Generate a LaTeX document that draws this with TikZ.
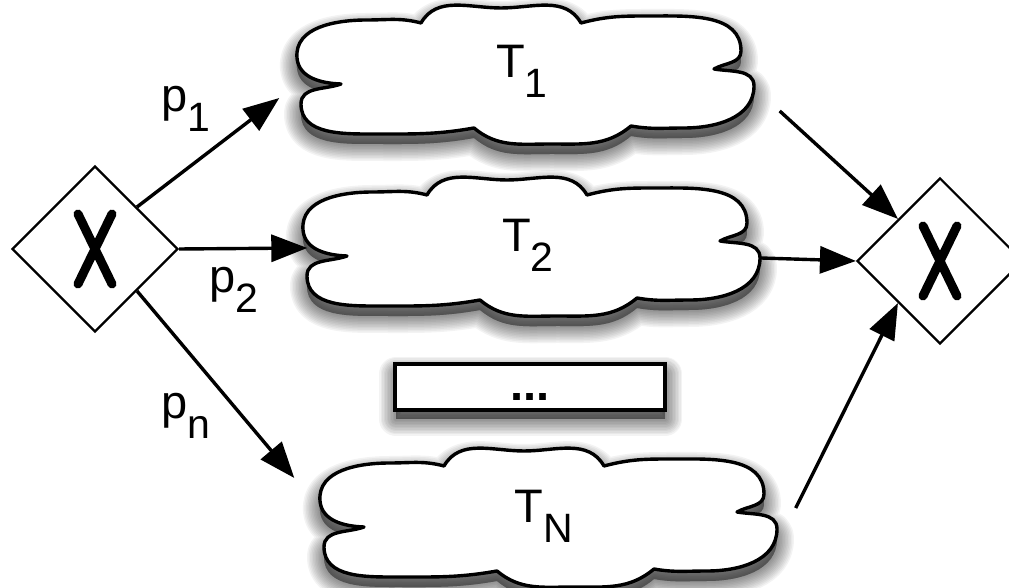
\documentclass[tikz,border=0pt]{standalone}
\usepackage{fontspec}
\setmainfont{Liberation Sans}
\usetikzlibrary{arrows.meta, shapes.geometric}

\newcommand{\lowsub}[1]{\raisebox{-20pt}{\fontsize{41}{48}\selectfont #1}}
% cloud outline centred on #1, drawn with style #2 (six puffs, notches left and right)
\newcommand{\cloudoutline}[2]{%
  \path[#2, shift={(#1)}]
    (-184,-8) to[out=178,in=-85] (-228,18)
    to[out=95,in=180] (-158,56)
    to[out=0,in=165] (-104,53)
    to[out=60,in=180] (-24,68)
    to[out=0,in=120] (56,53)
    to[out=15,in=180] (126,60)
    to[out=0,in=90] (216,25)
    to[out=-90,in=30] (189,7)
    to[out=-10,in=90] (229,-10)
    to[out=-90,in=0] (159,-52)
    to[out=180,in=-10] (106,-50)
    to[out=-140,in=0] (26,-68)
    to[out=180,in=-40] (-51,-52)
    to[out=-170,in=0] (-150,-58)
    to[out=180,in=-90] (-224,-28)
    to[out=90,in=-160] (-184,-8) -- cycle;}
% soft shadow under a cloud
\newcommand{\cloudshadow}[1]{%
  \foreach \w in {34,31,...,1}
    {\cloudoutline{#1}{softshadow, line width=\w pt}}}

\begin{document}
\begin{tikzpicture}[x=1pt, y=1pt,
    gateway/.style={diamond, draw, line width=2.2pt, minimum size=166pt, inner sep=0pt,
                    path picture={\draw[line width=9pt, line cap=round]
                      ([shift={(-17pt,35pt)}]path picture bounding box.center) -- ([shift={(17pt,-35pt)}]path picture bounding box.center)
                      ([shift={(17pt,35pt)}]path picture bounding box.center) -- ([shift={(-17pt,-35pt)}]path picture bounding box.center);}},
    softshadow/.style={draw=black, fill=black, opacity=0.048, line join=round, yshift=-10pt},
    cloudline/.style={draw, line width=3.4pt, line join=round, fill=white},
    cloudbox/.style={minimum width=457pt, minimum height=136pt, inner sep=0pt},
    ellipsisbox/.style={draw, line width=3.4pt, fill=white, minimum width=270pt, minimum height=46pt, inner sep=0pt,
                        text height=27pt, text depth=0pt, font=\fontsize{47}{56}\selectfont\bfseries},
    prob/.style={inner sep=0pt, font=\fontsize{47}{56}\selectfont},
    flow/.style={-{Triangle[length=36pt, width=27pt]}, line width=3.4pt},
  ]
  \useasboundingbox (0,0) rectangle (1009,588);

  % split and join gateways
  \node[gateway] (split) at (95,339) {};
  \node[gateway] (join) at (940,327) {};

  % the alternative branches
  \cloudshadow{525,512}
  \cloudoutline{525,512}{cloudline}
  \node[cloudbox] (t1) at (525,512) {};
  \cloudshadow{531,340}
  \cloudoutline{531,340}{cloudline}
  \node[cloudbox] (t2) at (531,340) {};
  \cloudshadow{548,69}
  \cloudoutline{548,69}{cloudline}
  \node[cloudbox] (tn) at (548,69) {};

  \foreach \w in {34,31,...,1}
    \path[softshadow, line width=\w pt] (396,179) rectangle (665,224);
  \node[ellipsisbox] (more) at (530,201) {...};

  % branch names, a little above the middle of each cloud
  \node[prob] (t1txt) at ([xshift=-3pt,yshift=5pt]t1.center) {T\lowsub{1}};
  \node[prob] (t2txt) at ([xshift=-3pt,yshift=3pt]t2.center) {T\lowsub{2}};
  \node[prob] (tntxt) at ([xshift=-4pt,yshift=3pt]tn.center) {T\lowsub{N}};

  % branch probabilities
  \node[prob] (p1) at (186,479) {p\lowsub{1}};
  \node[prob] (p2) at (234,298) {p\lowsub{2}};
  \node[prob] (pn) at (186,172) {p\lowsub{n}};

  \draw[flow] (split.north east) -- ([xshift=-17pt,yshift=-22pt]t1.west);
  \draw[flow] (split.east) -- ([xshift=5pt]t2.west);
  \draw[flow] (split.south east) -- ([xshift=-25pt,yshift=41pt]tn.west);
  \draw[flow] ([xshift=26pt,yshift=-35pt]t1.east) -- (join.north west);
  \draw[flow] ([xshift=1pt,yshift=-10pt]t2.east) -- (join.west);
  \draw[flow] ([xshift=19pt,yshift=11pt]tn.east) -- (join.south west);
\end{tikzpicture}
\end{document}
